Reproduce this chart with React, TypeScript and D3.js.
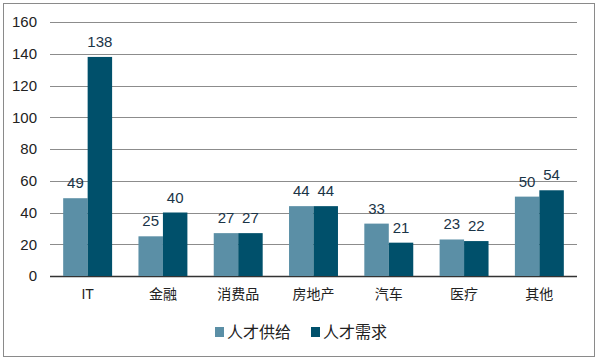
import React from "react";
import * as d3 from "d3";

const categories = ["IT", "金融", "消费品", "房地产", "汽车", "医疗", "其他"];
const supply = [49, 25, 27, 44, 33, 23, 50];
const demand = [138, 40, 27, 44, 21, 22, 54];
const seriesNames = ["人才供给", "人才需求"];
const yTicks = [0, 20, 40, 60, 80, 100, 120, 140, 160];

const colors = ["#5b8fa6", "#00506b"];
const font = "'Liberation Sans', Arial, 'Noto Sans CJK SC', sans-serif";

const W = 600;
const H = 362;
const margin = { top: 22, right: 23, bottom: 86, left: 50 };

export default function App() {
  const x = d3
    .scaleBand()
    .domain(categories)
    .range([margin.left, W - margin.right])
    .paddingInner(0.35)
    .paddingOuter(0.175);
  const x1 = d3.scaleBand().domain(["0", "1"]).range([0, x.bandwidth()]);
  const y = d3
    .scaleLinear()
    .domain([0, 160])
    .range([H - margin.bottom, margin.top]);

  const series = [supply, demand];

  return (
    <svg
      width={W}
      height={H}
      style={{ position: "absolute", left: 0, top: 0, fontFamily: font }}
    >
      <rect x={0} y={0} width={W} height={H} fill="#fff" />
      <rect
        x={3.5}
        y={3.5}
        width={591}
        height={353}
        fill="none"
        stroke="#8a8a8a"
        strokeWidth={1}
      />
      {yTicks.map((t) => (
        <g key={t}>
          <line
            x1={margin.left}
            x2={W - margin.right}
            y1={Math.round(y(t)) + 0.5}
            y2={Math.round(y(t)) + 0.5}
            stroke={t === 0 ? "#333" : "#8c8c8c"}
            strokeWidth={t === 0 ? 1.3 : 1}
          />
          <text
            x={37}
            y={y(t)}
            dy="0.36em"
            textAnchor="end"
            fontSize={15}
            fill="#222"
          >
            {t}
          </text>
        </g>
      ))}
      {categories.map((c, i) => (
        <g key={c}>
          {series.map((s, j) => {
            const bx = (x(c) as number) + (x1(String(j)) as number);
            return (
              <g key={j}>
                <rect
                  x={bx}
                  y={y(s[i])}
                  width={x1.bandwidth()}
                  height={y(0) - y(s[i])}
                  fill={colors[j]}
                />
                <text
                  x={bx + x1.bandwidth() / 2}
                  y={y(s[i]) - 10}
                  textAnchor="middle"
                  fontSize={15}
                  fill="#1a3447"
                >
                  {s[i]}
                </text>
              </g>
            );
          })}
          <text
            x={(x(c) as number) + x.bandwidth() / 2}
            y={299}
            textAnchor="middle"
            fontSize={14}
            fill="#222"
          >
            {c}
          </text>
        </g>
      ))}
      {seriesNames.map((n, j) => {
        const lx = j === 0 ? 215 : 311;
        return (
          <g key={n}>
            <rect x={lx} y={327} width={9} height={10} fill={colors[j]} />
            <text x={lx + 12} y={338} fontSize={16} fill="#222">
              {n}
            </text>
          </g>
        );
      })}
    </svg>
  );
}
